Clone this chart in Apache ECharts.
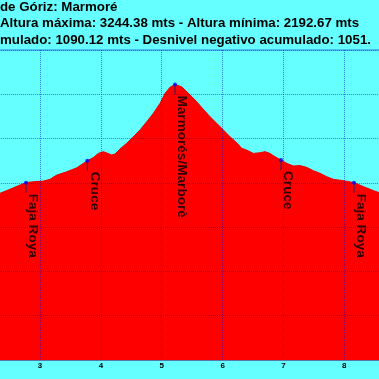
<!DOCTYPE html>
<html><head><meta charset="utf-8">
<script src="https://cdn.jsdelivr.net/npm/echarts@6/dist/echarts.min.js"></script>
<style>html,body{margin:0;padding:0;background:#66ffff;overflow:hidden}#c{width:379px;height:379px}</style>
</head><body><div id="c"></div>
<script>
// Title lines (as visible)
const titleLines = [
  'de Góriz: Marmoré',
  'Altura máxima: 3244.38 mts - Altura mínima: 2192.67 mts',
  'mulado: 1090.12 mts - Desnivel negativo acumulado: 1051.'
];
// Profile: distance (km) and altitude (m)
const distanceKm = [2.26, 2.343, 2.507, 2.671, 2.770, 2.890, 3.054, 3.164, 3.274, 3.439, 3.603, 3.777, 3.876, 3.958, 4.040, 4.096, 4.178, 4.232, 4.314, 4.425, 4.533, 4.643, 4.753, 4.862, 4.972, 5.054, 5.136, 5.218, 5.328, 5.383, 5.465, 5.575, 5.683, 5.793, 5.903, 6.012, 6.122, 6.232, 6.314, 6.396, 6.505, 6.615, 6.697, 6.779, 6.861, 6.960, 7.054, 7.162, 7.272, 7.382, 7.491, 7.601, 7.711, 7.820, 7.984, 8.159, 8.312, 8.477, 8.570, 8.66];
const altitudeM = [2740, 2753, 2771, 2790, 2801, 2805, 2808, 2816, 2835, 2850, 2868, 2900, 2914, 2933, 2941, 2935, 2926, 2930, 2953, 2979, 3008, 3039, 3076, 3114, 3159, 3204, 3232, 3244.38, 3234, 3219, 3197, 3166, 3132, 3099, 3069, 3039, 3008, 2981, 2956, 2948, 2933, 2936, 2941, 2933, 2918, 2903, 2888, 2876, 2878, 2870, 2855, 2843, 2828, 2816, 2810, 2801, 2783, 2765, 2756, 2744];
// Waypoints
const waypointNames = ['Faja Roya', 'Cruce', 'Marmorés/Marborè', 'Cruce', 'Faja Roya'];
const waypointKm = [2.770, 3.777, 5.218, 6.960, 8.159];
const waypointAlt = [2801, 2900, 3244.38, 2903, 2801];
// Axes
const xMin = 2, xMax = 9, xStep = 1;
const yMin = 2000, yMax = 3400, yStep = 200;

const chart = echarts.init(document.getElementById('c'), null, {renderer: 'canvas'});
const gridLine = 'rgba(0,0,200,0.5)';
chart.setOption({
  backgroundColor: '#66ffff',
  animation: false,
  title: titleLines.map((t, i) => ({
    text: t, left: 0, top: 1 + i * 16.3, padding: 0,
    textStyle: {fontFamily: 'Liberation Sans, Arial, sans-serif', fontSize: 13.3, fontWeight: 'bold', color: '#000'}
  })),
  grid: {left: -20.86, right: -26.2, top: 50, bottom: 19, containLabel: false, outerBoundsMode: 'none',
    show: true, borderColor: gridLine, borderWidth: 1, backgroundColor: 'transparent'},
  xAxis: {
    type: 'value', min: xMin, max: xMax, interval: xStep, z: 5,
    axisLine: {show: true, lineStyle: {color: '#5577aa', width: 1}},
    axisTick: {show: false},
    axisLabel: {fontSize: 8, fontWeight: 'bold', color: '#000', margin: 2, fontFamily: 'Liberation Sans, Arial, sans-serif'},
    splitLine: {show: true, lineStyle: {color: gridLine, type: 'dotted', width: 1}}
  },
  yAxis: {
    type: 'value', min: yMin, max: yMax, interval: yStep, z: 5,
    axisLine: {show: false}, axisTick: {show: false}, axisLabel: {show: false},
    splitLine: {show: true, lineStyle: {color: gridLine, type: 'dotted', width: 1}}
  },
  series: [
    {
      type: 'line', data: distanceKm.map((d, i) => [d, altitudeM[i]]),
      showSymbol: false, smooth: false, z: 2,
      lineStyle: {color: '#ee0000', width: 1},
      areaStyle: {color: '#ff0000', opacity: 1, origin: 'start'}
    },
    {
      type: 'custom', z: 6,
      data: waypointKm.map((d, i) => [d, waypointAlt[i]]),
      renderItem: (params, api) => {
        const p = api.coord([api.value(0), api.value(1)]);
        return {type: 'line', shape: {x1: p[0], y1: p[1], x2: p[0], y2: p[1] + 10}, style: {stroke: '#222266', lineWidth: 1}};
      }
    },
    {
      type: 'scatter', z: 7, symbolSize: 4,
      itemStyle: {color: '#0000ff'},
      data: waypointKm.map((d, i) => ({value: [d, waypointAlt[i]], name: waypointNames[i]})),
      label: {
        show: true, position: 'bottom', distance: 9, rotate: -90,
        align: 'left', verticalAlign: 'bottom',
        formatter: p => p.name,
        fontFamily: 'Liberation Sans, Arial, sans-serif', fontSize: 13.6, fontWeight: 'bold', color: '#000'
      }
    }
  ]
});
</script></body></html>
